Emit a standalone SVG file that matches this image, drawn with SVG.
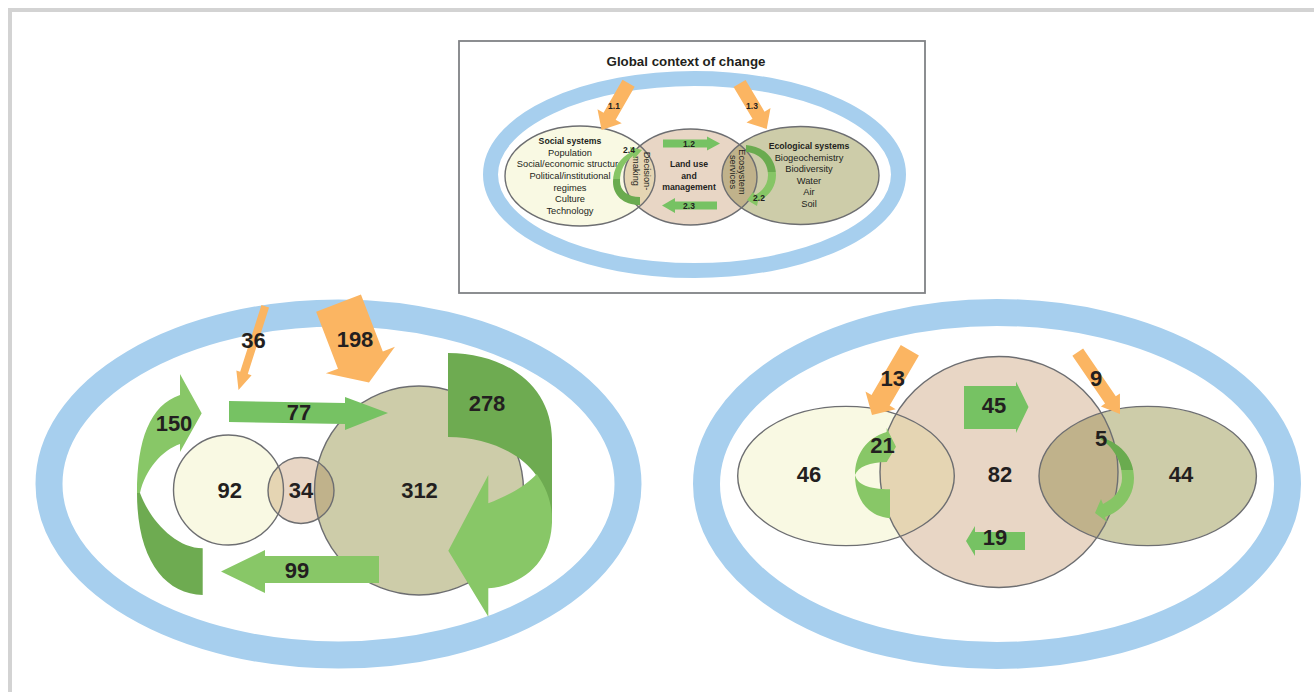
<svg xmlns="http://www.w3.org/2000/svg" width="1314" height="692" viewBox="0 0 1314 692">
<style>
.ring{fill:none;stroke:#a7cfee}
.edge{fill:none;stroke:#6d6e71;stroke-width:1.4}
.soc{fill:#f9f9e3}.land{fill:#e8d6c5}.eco{fill:#cdcca9}.sl{fill:#e5d5b3}.le{fill:#c0b28b}
.or{fill:#fbb562}.gr{fill:#76c263}.gl{fill:#88c767}.gd{fill:#6eab51}
.num{font-family:"Liberation Sans",Arial,sans-serif;font-weight:bold;font-size:22px;fill:#231f20;text-anchor:middle}
.lbl{font-family:"Liberation Sans",Arial,sans-serif;font-size:9.3px;fill:#231f20;text-anchor:middle}
.b{font-weight:bold;font-size:8.7px}
.sm{font-family:"Liberation Sans",Arial,sans-serif;font-weight:bold;font-size:8.5px;fill:#231f20;text-anchor:middle}
</style>
<defs>
<clipPath id="cSocT"><ellipse cx="580" cy="176" rx="75" ry="50"/></clipPath>
<clipPath id="cEcoT"><ellipse cx="800.5" cy="175.5" rx="78.5" ry="49"/></clipPath>
<clipPath id="c92"><circle cx="228.5" cy="490" r="55"/></clipPath>
<clipPath id="c312"><circle cx="419" cy="490.5" r="104.5"/></clipPath>
<clipPath id="cL"><ellipse cx="846" cy="476" rx="108.3" ry="69.6"/></clipPath>
<clipPath id="cR"><ellipse cx="1147.7" cy="476" rx="108.7" ry="69.6"/></clipPath>
<linearGradient id="g24" gradientUnits="userSpaceOnUse" x1="0" y1="145" x2="0" y2="206"><stop offset="0" stop-color="#86c565"/><stop offset="0.55" stop-color="#86c565"/><stop offset="0.55" stop-color="#6aab4f"/><stop offset="1" stop-color="#6aab4f"/></linearGradient>
<linearGradient id="g22" gradientUnits="userSpaceOnUse" x1="0" y1="145" x2="0" y2="206"><stop offset="0" stop-color="#6aab4f"/><stop offset="0.45" stop-color="#6aab4f"/><stop offset="0.45" stop-color="#86c565"/><stop offset="1" stop-color="#86c565"/></linearGradient>
<linearGradient id="g5" gradientUnits="userSpaceOnUse" x1="0" y1="436" x2="0" y2="522"><stop offset="0" stop-color="#6aab4f"/><stop offset="0.4" stop-color="#6aab4f"/><stop offset="0.4" stop-color="#86c565"/><stop offset="1" stop-color="#86c565"/></linearGradient>
</defs>
<rect x="0" y="0" width="1314" height="692" fill="#ffffff"/>
<rect id="frame" x="10" y="10" width="1330" height="720" fill="none" stroke="#d3d3d3" stroke-width="4"/>

<g id="context-box">
<rect x="459" y="41" width="466" height="252" fill="#ffffff" stroke="#808285" stroke-width="1.8"/>
<text x="686" y="66" font-family="Liberation Sans, Arial, sans-serif" font-weight="bold" font-size="13.3" fill="#231f20" text-anchor="middle">Global context of change</text>
<ellipse class="ring" cx="694.5" cy="174.5" rx="204" ry="96" stroke-width="15"/>
</g>
<g id="top-social">
<ellipse class="soc" cx="580" cy="176" rx="75" ry="50"/>
</g>
<g id="top-land">
<ellipse class="land" cx="690.5" cy="177" rx="66.5" ry="48"/>
<ellipse class="sl" cx="690.5" cy="177" rx="66.5" ry="48" clip-path="url(#cSocT)"/>
</g>
<g id="top-eco">
<ellipse class="eco" cx="800.5" cy="175.5" rx="78.5" ry="49"/>
<ellipse class="le" cx="690.5" cy="177" rx="66.5" ry="48" clip-path="url(#cEcoT)"/>
</g>
<g id="top-edges">
<ellipse class="edge" cx="580" cy="176" rx="75" ry="50"/>
<ellipse class="edge" cx="690.5" cy="177" rx="66.5" ry="48"/>
<ellipse class="edge" cx="800.5" cy="175.5" rx="78.5" ry="49"/>
</g>
<g id="top-social-text" class="lbl">
<text x="570" y="144" class="b">Social systems</text>
<text x="570" y="155.7">Population</text>
<text x="570" y="167.3">Social/economic structure</text>
<text x="570" y="178.9">Political/institutional</text>
<text x="570" y="190.5">regimes</text>
<text x="570" y="202.1">Culture</text>
<text x="570" y="213.7">Technology</text>
</g>
<g id="top-land-text" class="lbl">
<text x="689" y="167" class="b">Land use</text>
<text x="689" y="178.7" class="b">and</text>
<text x="689" y="190.4" class="b">management</text>
<text transform="translate(643.5,171) rotate(90)">Decision-</text>
<text transform="translate(633,171) rotate(90)">making</text>
<text transform="translate(739,172) rotate(90)">Ecosystem</text>
<text transform="translate(729.5,172) rotate(90)">services</text>
</g>
<g id="top-eco-text" class="lbl">
<text x="809" y="149" class="b">Ecological systems</text>
<text x="809" y="160.6">Biogeochemistry</text>
<text x="809" y="172.2">Biodiversity</text>
<text x="809" y="183.8">Water</text>
<text x="809" y="195.4">Air</text>
<text x="809" y="207">Soil</text>
</g>

<g id="left-diagram">
<ellipse class="ring" cx="338.5" cy="484" rx="289.5" ry="171" stroke-width="27"/>
<circle class="soc" cx="228.5" cy="490" r="55"/>
<circle class="land" cx="301" cy="490.5" r="33"/>
<circle class="eco" cx="419" cy="490.5" r="104.5"/>
<circle class="sl" cx="301" cy="490.5" r="33" clip-path="url(#c92)"/>
<circle class="le" cx="301" cy="490.5" r="33" clip-path="url(#c312)"/>
<circle class="edge" cx="228.5" cy="490" r="55"/>
<circle class="edge" cx="301" cy="490.5" r="33"/>
<circle class="edge" cx="419" cy="490.5" r="104.5"/>
</g>

<g id="right-diagram">
<ellipse class="ring" cx="997" cy="484" rx="290.5" ry="171.5" stroke-width="27"/>
<ellipse class="soc" cx="846" cy="476" rx="108.3" ry="69.6"/>
<ellipse class="eco" cx="1147.7" cy="476" rx="108.7" ry="69.6"/>
<ellipse class="land" cx="999" cy="472" rx="119" ry="115.5"/>
<ellipse class="sl" cx="999" cy="472" rx="119" ry="115.5" clip-path="url(#cL)"/>
<ellipse class="le" cx="999" cy="472" rx="119" ry="115.5" clip-path="url(#cR)"/>
<ellipse class="edge" cx="846" cy="476" rx="108.3" ry="69.6"/>
<ellipse class="edge" cx="1147.7" cy="476" rx="108.7" ry="69.6"/>
<ellipse class="edge" cx="999" cy="472" rx="119" ry="115.5"/>
</g>

<g id="connectors">
<polygon class="or" transform="translate(601.6,130) rotate(120)" points="-54,-7 -16,-7 -16,-14 0,0 -16,14 -16,7 -54,7"/>
<polygon class="or" transform="translate(766.7,129) rotate(59.2)" points="-53,-7 -16,-7 -16,-14 0,0 -16,14 -16,7 -53,7"/>
<polygon class="gr" points="663,139.5 707,139.5 707,136.5 720,143.5 707,150.5 707,147.5 663,147.5"/>
<polygon class="gr" points="717,201.5 675,201.5 675,198 662,205.5 675,213 675,209.5 717,209.5"/>
<path fill="url(#g24)" d="M640,205 C623,205 613,195 613,182 C613,168 620,158 631,152 L630,147 L642,150 L634,159 L633,156 C624,162 620,171 620,181 C620,191 628,197 640,197 Z"/>
<path fill="url(#g22)" d="M746,145 C763,146 776,158 776,175 C776,188 768,197 758,201 L757,206 L747,200 L753,192 L755,195 C763,191 768,184 768,175 C768,162 759,153 746,152 Z"/>

<polygon class="or" transform="translate(238.5,390) rotate(107.7)" points="-88,-4 -18,-4 -18,-8 0,0 -18,8 -18,4 -88,4"/>
<polygon class="or" transform="translate(369,382.5) rotate(69)" points="-85,-24 -24,-24 -24,-37 0,0 -24,37 -24,24 -85,24"/>
<polygon class="gr" points="229,401 345,403 345,397 388,413 345,430 345,424 229,422"/>
<polygon class="gl" points="379,556 265,556 265,550 221,571.5 265,593 265,583 379,583"/>
<path class="gl" d="M137,493 C137,440 150,405 180,395 L180,374 L201.7,413.3 L180,452 L180,444 C162,450 145,470 140,493 Z"/>
<path class="gd" d="M140,493 C150,520 175,548 202.7,548.3 L202.7,595 C165,594 137,560 137,493 Z"/>
<path class="gd" d="M448,353 C505,353 552,385 552,440 L552,525 L536,475 C520,452 485,437 448,437 Z"/>
<path class="gl" d="M536.7,474 C548,490 552,505 552,520 C552,560 525,585 488.3,588.3 L488.3,616.7 L448.3,550.7 L488.3,475 L488.3,503.3 C505,497 525,487 536.7,474 Z"/>

<polygon class="or" transform="translate(872,415) rotate(120.3)" points="-75,-10.5 -17,-10.5 -17,-17.5 0,0 -17,17.5 -17,10.5 -75,10.5"/>
<polygon class="or" transform="translate(1120,414) rotate(55.7)" points="-75,-6.5 -17,-6.5 -17,-11.5 0,0 -17,11.5 -17,6.5 -75,6.5"/>
<polygon class="gr" points="964,386 1016,386 1016,381.5 1028.5,407 1016,433 1016,429 964,429"/>
<polygon class="gr" points="1025,532 975,532 975,526 966,541 975,556 975,550 1025,550"/>
<path class="gl" d="M855,475 C855,455 866,438 886.7,432 L886.7,428 L896,446.7 L886.7,462 C870,462 858,467 855,475 Z"/>
<path class="gl" d="M855,475 C858,485 868,489 890,489.3 L890,518.3 C866,516 855,497 855,475 Z"/>
<path fill="url(#g5)" d="M1095,436 C1121,441 1134,458 1134,478 C1134,497 1122,511 1105,517 L1107,522 L1095,513 L1101,499 L1103,504 C1115,498 1122,489 1122,478 C1122,458 1110,443 1095,436 Z"/>
</g>

<g id="labels">
<text class="sm" x="614" y="109">1.1</text>
<text class="sm" x="752" y="109">1.3</text>
<text class="sm" x="689" y="146.8">1.2</text>
<text class="sm" x="689" y="209">2.3</text>
<text class="sm" x="629" y="152.5">2.4</text>
<text class="sm" x="759" y="200.5">2.2</text>
<text class="num" x="253.4" y="347.5">36</text>
<text class="num" x="355" y="347">198</text>
<text class="num" x="174" y="431">150</text>
<text class="num" x="299" y="420">77</text>
<text class="num" x="229.7" y="498">92</text>
<text class="num" x="301" y="498">34</text>
<text class="num" x="419.5" y="498">312</text>
<text class="num" x="297" y="578">99</text>
<text class="num" x="487" y="411">278</text>
<text class="num" x="892.7" y="386">13</text>
<text class="num" x="1096" y="386">9</text>
<text class="num" x="994" y="413">45</text>
<text class="num" x="882.5" y="453">21</text>
<text class="num" x="809" y="481.5">46</text>
<text class="num" x="1000" y="481.5">82</text>
<text class="num" x="1181" y="481.5">44</text>
<text class="num" x="1101" y="446">5</text>
<text class="num" x="995" y="545">19</text>
</g>
</svg>
